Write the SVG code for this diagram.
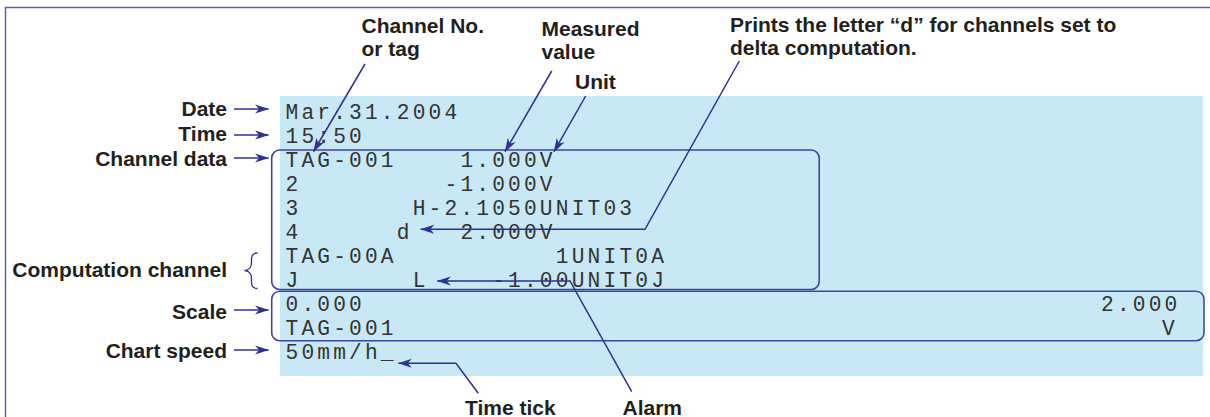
<svg xmlns="http://www.w3.org/2000/svg" width="1210" height="417" viewBox="0 0 1210 417">
  <style>
    .lbl { font-family: "Liberation Sans", Arial, sans-serif; font-weight: bold; font-size: 21px; fill: #231f20; }
    .end { text-anchor: end; }
    .mono { font-family: "Liberation Mono", "Courier New", monospace; font-size: 21.2px; letter-spacing: 3.18px; fill: #333333; }
    .ldr { fill: none; stroke: #2e3192; stroke-width: 1.3; }
    .arr { fill: none; stroke: #2e3192; stroke-width: 1.5; marker-end: url(#ah); }
    .box { fill: none; stroke: #3d46a0; stroke-width: 1.6; }
  </style>
  <defs>
    <marker id="ah" markerUnits="userSpaceOnUse" viewBox="0 0 14 10" refX="13.5" refY="5" markerWidth="14" markerHeight="10" orient="auto">
      <path d="M0,0.5 L14,5 L0,9.5 L4,5 Z" fill="#2e3192"/>
    </marker>
  </defs>

  <rect x="0" y="0" width="1210" height="417" fill="#ffffff"/>
  <rect id="frame" x="5.5" y="7.5" width="1230" height="430" fill="none" stroke="#5a5fae" stroke-width="1.5"/>

  <g id="printout">
    <rect x="280" y="96" width="923" height="280" fill="#c7e8f4"/>
    <rect id="channel-box" class="box" x="271.7" y="150" width="547.5" height="139.5" rx="8"/>
    <rect id="scale-box" class="box" x="271.7" y="291.2" width="932.3" height="49.5" rx="8"/>
    <text class="mono"><tspan x="285.5" y="118.5">Mar.31.2004</tspan><tspan x="285.5" y="142.5">15:50</tspan><tspan x="285.5" y="166.5">TAG-001</tspan><tspan x="460.4" y="166.5">1.000V</tspan><tspan x="285.5" y="190.5">2</tspan><tspan x="444.5" y="190.5">-1.000V</tspan><tspan x="285.5" y="214.5">3</tspan><tspan x="412.7" y="214.5">H-2.1050UNIT03</tspan><tspan x="285.5" y="238.5">4</tspan><tspan x="396.8" y="238.5">d</tspan><tspan x="460.4" y="238.5">2.000V</tspan><tspan x="285.5" y="262.5">TAG-00A</tspan><tspan x="555.8" y="262.5">1UNIT0A</tspan><tspan x="285.5" y="286.5">J</tspan><tspan x="412.7" y="286.5">L</tspan><tspan x="492.2" y="286.5">-1.00UNIT0J</tspan><tspan x="285.5" y="310.5">0.000</tspan><tspan x="1101" y="310.5">2.000</tspan><tspan x="285.5" y="334.5">TAG-001</tspan><tspan x="1162" y="334.5">V</tspan><tspan x="285.5" y="358.5">50mm/h_</tspan></text>
  </g>

  <g id="label-date"><text class="lbl end" x="227" y="116">Date</text></g>
  <g id="label-time"><text class="lbl end" x="227" y="141">Time</text></g>
  <g id="label-channel-data"><text class="lbl end" x="227" y="166">Channel data</text></g>
  <g id="label-computation"><text class="lbl end" x="227" y="277">Computation channel</text></g>
  <g id="label-scale"><text class="lbl end" x="227" y="318.5">Scale</text></g>
  <g id="label-chart-speed"><text class="lbl end" x="227" y="357.5">Chart speed</text></g>
  <g id="label-channel-no">
    <text class="lbl" x="361.5" y="33">Channel No.</text>
    <text class="lbl" x="361.5" y="56">or tag</text>
  </g>
  <g id="label-measured">
    <text class="lbl" x="541.5" y="35.5">Measured</text>
    <text class="lbl" x="541.5" y="58.5">value</text>
  </g>
  <g id="label-unit"><text class="lbl" x="575" y="89">Unit</text></g>
  <g id="label-delta">
    <text class="lbl" x="730" y="31.5">Prints the letter “d” for channels set to</text>
    <text class="lbl" x="730" y="54.5">delta computation.</text>
  </g>
  <g id="label-time-tick"><text class="lbl" x="465" y="415">Time tick</text></g>
  <g id="label-alarm"><text class="lbl" x="622.5" y="415">Alarm</text></g>

  <g id="connectors">
    <line class="arr" x1="234" y1="109" x2="268.5" y2="109"/>
    <line class="arr" x1="234" y1="135" x2="268.5" y2="135"/>
    <line class="arr" x1="234" y1="158" x2="268.5" y2="158"/>
    <line class="arr" x1="234" y1="310" x2="268.5" y2="310"/>
    <line class="arr" x1="234" y1="350" x2="268.5" y2="350"/>
    <path class="ldr" d="M257.5,253 C250.5,253 251.5,259 251.5,263 C251.5,268 248,270.5 244.5,270.5 C248,270.5 251.5,273 251.5,278 C251.5,283 250.5,288.5 257.5,288.5"/>
    <line class="arr" x1="365" y1="64" x2="313.5" y2="151.5"/>
    <line class="arr" x1="551.7" y1="71" x2="505" y2="151.7"/>
    <line class="arr" x1="585.7" y1="96" x2="554" y2="151.7"/>
    <polyline class="arr" points="739.3,61 645,229.3 420.7,229.3"/>
    <polyline class="arr" points="631.7,391.7 570,281 437.3,281"/>
    <polyline class="arr" points="478.3,393.3 456,363.3 398.3,363.3"/>
  </g>
</svg>
